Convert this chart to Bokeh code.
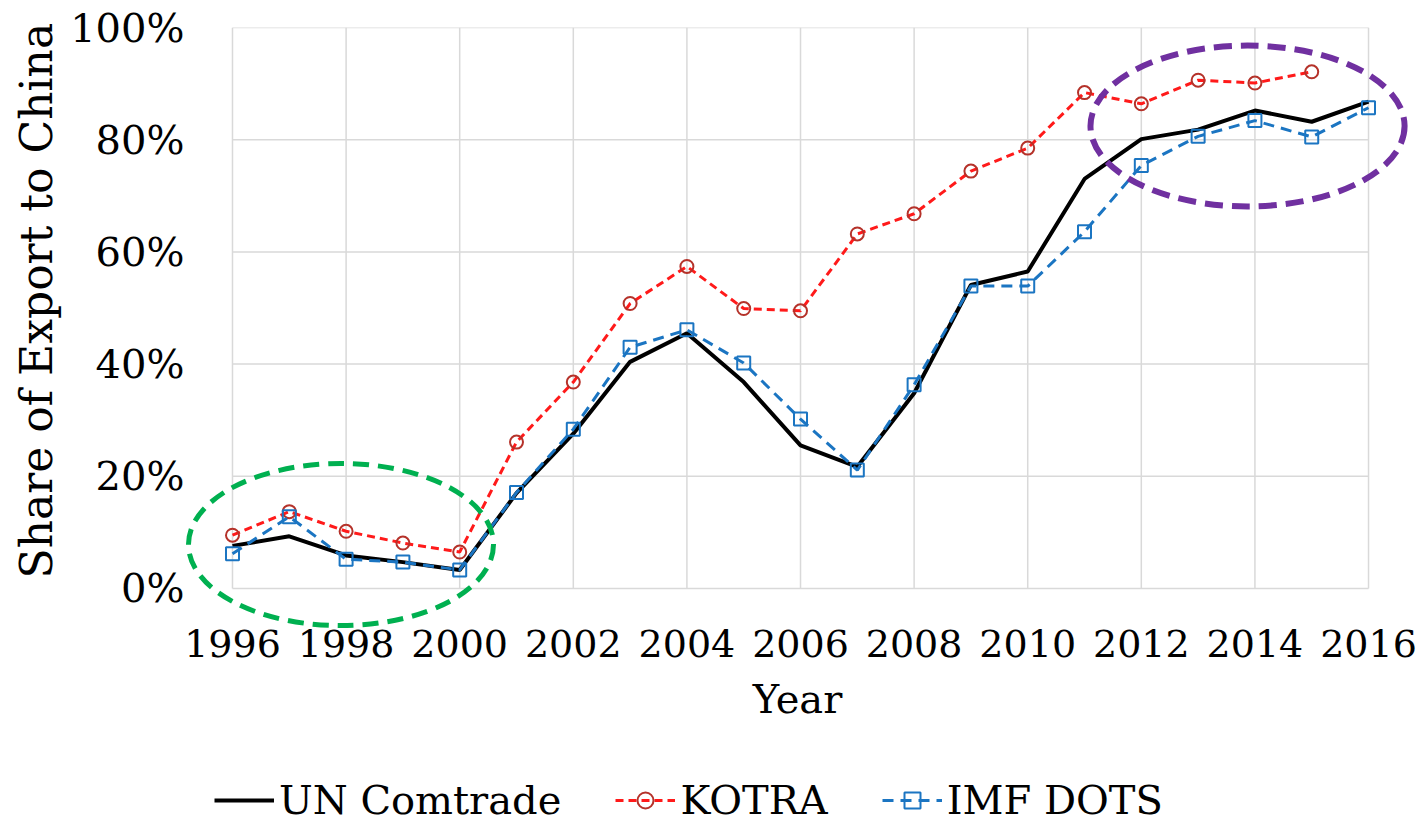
import numpy as np
from bokeh.plotting import figure
from bokeh.layouts import column
from bokeh.models import Range1d, FixedTicker, Legend, LegendItem, Title
from bokeh.embed import file_html
from bokeh.resources import INLINE

# ---------------- data ----------------
years = list(range(1996, 2017))
un_comtrade = [7.6, 9.3, 5.9, 4.7, 3.3, 17.0, 27.6, 40.4, 45.5, 36.8, 25.5,
               21.7, 34.8, 54.1, 56.5, 73.0, 80.1, 81.8, 85.2, 83.2, 86.8]
kotra = [9.5, 13.7, 10.2, 8.1, 6.5, 26.1, 36.8, 50.8, 57.4, 49.9, 49.5,
         63.2, 66.8, 74.4, 78.5, 88.4, 86.4, 90.6, 90.1, 92.1]
imf_dots = [6.2, 12.8, 5.2, 4.7, 3.3, 17.1, 28.4, 43.0, 46.1, 40.2, 30.2,
            21.1, 36.3, 53.9, 53.9, 63.6, 75.4, 80.6, 83.4, 80.5, 85.7]
series_names = ["UN Comtrade", "KOTRA", "IMF DOTS"]

x_ticks = [1996, 1998, 2000, 2002, 2004, 2006, 2008, 2010, 2012, 2014, 2016]
y_ticks = [0, 20, 40, 60, 80, 100]
y_tick_labels = ["0%", "20%", "40%", "60%", "80%", "100%"]
x_title = "Year"
y_title = "Share of Export to China"

# highlight ellipses (center x, center y, full width, full height) in data units
green_ellipse = (1997.91, 7.84, 5.37, 28.9)
purple_ellipse = (2013.87, 82.44, 5.53, 28.7)

FONT = "DejaVu Serif"
GRID = "#D9D9D9"

# series styles
UN_STYLE = dict(line_color="black", line_width=4)
K_LINE = dict(line_color="#FF1A1A", line_width=3, line_dash="8 5")
K_PTS = dict(marker="circle", size=13, line_color="#B5322A", line_width=2, fill_color=None)
I_LINE = dict(line_color="#1B75C2", line_width=3, line_dash="11 7")
I_PTS = dict(marker="square", size=13, line_color="#1B75C2", line_width=2, fill_color=None)

kx = years[:len(kotra)]

# ---------------- main chart ----------------
# the frame is a little larger than the plot area so the ellipses can spill over it
p = figure(width=1418, height=740, output_backend="svg", toolbar_location=None,
           x_range=Range1d(1995.155, 2016.739), y_range=Range1d(-7.31, 100),
           min_border_left=184, min_border_right=8,
           min_border_top=27, min_border_bottom=111)
p.outline_line_color = None
p.background_fill_color = "white"
p.border_fill_color = "white"
p.xgrid.visible = False
p.ygrid.visible = False

p.xaxis.ticker = FixedTicker(ticks=x_ticks)
p.yaxis.ticker = FixedTicker(ticks=y_ticks)
p.yaxis.major_label_overrides = {t: l for t, l in zip(y_ticks, y_tick_labels)}
for ax in (p.xaxis, p.yaxis):
    ax.axis_line_color = None
    ax.major_tick_line_color = None
    ax.minor_tick_line_color = None
    ax.major_tick_out = 0
    ax.major_tick_in = 0
    ax.major_label_text_font = FONT
    ax.major_label_text_color = "black"
    ax.axis_label_text_font = FONT
    ax.axis_label_text_font_style = "normal"
    ax.axis_label_text_color = "black"
p.xaxis.major_label_text_font_size = "38px"
p.yaxis.major_label_text_font_size = "40px"
p.xaxis.major_label_standoff = 0
p.yaxis.major_label_standoff = 0
p.xaxis.axis_label = x_title
p.xaxis.axis_label_text_font_size = "40px"
p.xaxis.axis_label_standoff = 16

# y title as a side title so it can be placed along the axis like the original
ytitle = Title(text=y_title, align="left", offset=51, vertical_align="middle",
               text_font=FONT, text_font_size="44px", text_font_style="normal",
               text_color="black", standoff=10)
p.add_layout(ytitle, "left")

# plot-area grid and border (from the tick lists)
nx, ny = len(x_ticks), len(y_ticks)
p.segment(x0=x_ticks, y0=[y_ticks[0]] * nx, x1=x_ticks, y1=[y_ticks[-1]] * nx,
          line_color=GRID, line_width=1.5)
p.segment(x0=[x_ticks[0]] * ny, y0=y_ticks, x1=[x_ticks[-1]] * ny, y1=y_ticks,
          line_color=GRID, line_width=1.5)

p.line(years, un_comtrade, **UN_STYLE)
p.line(kx, kotra, **K_LINE)
p.scatter(kx, kotra, **K_PTS)
p.line(years, imf_dots, **I_LINE)
p.scatter(years, imf_dots, **I_PTS)

for (cx, cy, w, h), col, lw, dash in [
        (green_ellipse, "#00B050", 5, "16 9"),
        (purple_ellipse, "#7030A0", 6, "18 9")]:
    p.ellipse(x=[cx], y=[cy], width=[w], height=[h], fill_color=None,
              line_color=col, line_width=lw, line_dash=dash)

# ---------------- legend strip ----------------
# same series drawn in a strip whose ranges keep them out of view; only its legend shows
lg = figure(width=1418, height=83, output_backend="svg", toolbar_location=None,
            x_range=Range1d(0, 1), y_range=Range1d(0, 1),
            x_axis_type=None, y_axis_type=None, min_border=0)
lg.outline_line_color = None
lg.grid.visible = False
lg.background_fill_color = "white"
lg.border_fill_color = "white"

l_un = lg.line(years, un_comtrade, **UN_STYLE)
l_kl = lg.line(kx, kotra, **K_LINE)
l_kp = lg.scatter(kx, kotra, **K_PTS)
l_il = lg.line(years, imf_dots, **I_LINE)
l_ip = lg.scatter(years, imf_dots, **I_PTS)

legend = Legend(items=[
    LegendItem(label=series_names[0], renderers=[l_un]),
    LegendItem(label=series_names[1], renderers=[l_kl, l_kp]),
    LegendItem(label=series_names[2], renderers=[l_il, l_ip]),
], location=(30, 0), orientation="horizontal")
legend.label_text_font = FONT
legend.label_text_font_size = "40px"
legend.label_text_color = "black"
legend.glyph_width = 60
legend.glyph_height = 40
legend.label_standoff = 5
legend.spacing = 54
legend.padding = 0
legend.margin = 0
legend.border_line_color = None
legend.background_fill_alpha = 0
lg.add_layout(legend, "center")

open("out.html", "w").write(file_html(column(p, lg, spacing=0), INLINE))
